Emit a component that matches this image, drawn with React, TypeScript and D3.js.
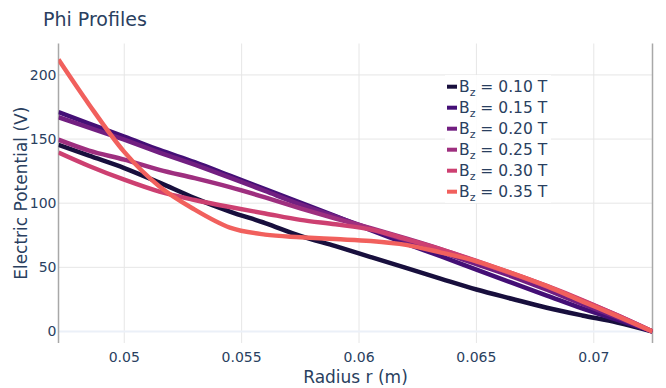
// @ts-nocheck
import * as d3 from "d3";
import { useMemo } from "react";

const width = 666;
const height = 388;

// radius sample points (m)
const radius = [
    0.0472, 0.0485, 0.05, 0.0515, 0.053, 0.0545, 0.056, 0.0575, 0.059,
    0.0605, 0.062, 0.0635, 0.065, 0.0665, 0.068, 0.0695, 0.071, 0.0725,
];

const fieldLabels = ["0.10", "0.15", "0.20", "0.25", "0.30", "0.35"];
const fieldColors = ["#180f3d", "#440f76", "#721f81", "#9e2f7f", "#cd4071", "#f1605d"];

// electric potential (V) per field strength
const phi010 = [145.5, 137, 127.4, 116, 104, 93.5, 84.5, 74.5, 66.5, 58, 49.5, 41, 32.7, 25.5, 18.5, 12.5, 7, 0];
const phi015 = [171, 162, 152, 141.5, 132, 121.5, 111, 100.5, 90, 79, 68.5, 58.5, 48.2, 38, 28, 18, 9, 0];
const phi020 = [167, 159, 149.5, 139.5, 130, 120, 109.5, 99, 89.5, 80, 71, 62, 52.5, 43, 32.5, 21.5, 11, 0];
const phi025 = [149.5, 141, 134, 126, 119.5, 112.5, 104.5, 96, 88, 80.5, 72.5, 64, 54.5, 45, 35, 24, 12.5, 0];
const phi030 = [139.5, 129, 118.3, 109, 102.5, 97, 92, 87, 83.5, 79.5, 72, 64, 55, 45.5, 35.5, 24.5, 12.5, 0];
const phi035 = [212, 177, 140, 113, 95, 81, 75.5, 73.5, 72, 70.5, 67.5, 61.5, 54.7, 45.5, 35.3, 23.5, 12, 0];

const phiSeries = [phi010, phi015, phi020, phi025, phi030, phi035];

const xTicks = [0.05, 0.055, 0.06, 0.065, 0.07];
const xTickLabels = ["0.05", "0.055", "0.06", "0.065", "0.07"];
const yTicks = [0, 50, 100, 150, 200];

const textColor = "#2a3f5f";
const font = "'DejaVu Sans', Verdana, sans-serif";

const plot = { left: 58.5, right: 652.5, top: 43.5, bottom: 343 };

const App = () => {
    const xScale = useMemo(
        () => d3.scaleLinear().domain([0.0472, 0.0725]).range([plot.left, plot.right]),
        []
    );
    const yScale = useMemo(
        () => d3.scaleLinear().domain([-9, 224.5]).range([plot.bottom, plot.top]),
        []
    );

    const line = d3
        .line()
        .x((d) => xScale(d[0]))
        .y((d) => yScale(d[1]))
        .curve(d3.curveMonotoneX);

    const series = phiSeries.map((vals, i) => ({
        label: fieldLabels[i],
        color: fieldColors[i],
        points: vals.map((v, j) => [radius[j], v]),
    }));

    const legend = { x: 445, y: 75, w: 106, h: 128, row: 21 };

    return (
        <svg
            width={width}
            height={height}
            style={{ position: "absolute", left: 0, top: 0, background: "#fff" }}
            fontFamily={font}
        >
            <text x={43} y={26} fontSize={19} fill={textColor}>
                Phi Profiles
            </text>

            {/* grid */}
            <g>
                {xTicks.map((t) => (
                    <line
                        key={`xg-${t}`}
                        x1={xScale(t)}
                        x2={xScale(t)}
                        y1={plot.top}
                        y2={plot.bottom}
                        stroke="#e6e6e6"
                        strokeWidth={1}
                    />
                ))}
                {yTicks.map((t) => (
                    <line
                        key={`yg-${t}`}
                        x1={plot.left}
                        x2={plot.right}
                        y1={yScale(t)}
                        y2={yScale(t)}
                        stroke={t === 0 ? "#ebf0f8" : "#e6e6e6"}
                        strokeWidth={t === 0 ? 2 : 1}
                    />
                ))}
            </g>

            {/* axis lines, left and mirrored right */}
            <line x1={plot.left} x2={plot.left} y1={plot.top} y2={plot.bottom} stroke="#a8a8a8" strokeWidth={1.5} />
            <line x1={plot.right} x2={plot.right} y1={plot.top} y2={plot.bottom} stroke="#a8a8a8" strokeWidth={1.5} />

            {/* tick labels */}
            {xTicks.map((t, i) => (
                <text key={`xt-${t}`} x={xScale(t)} y={361.5} fontSize={14} fill={textColor} textAnchor="middle">
                    {xTickLabels[i]}
                </text>
            ))}
            {yTicks.map((t) => (
                <text
                    key={`yt-${t}`}
                    x={56.5}
                    y={yScale(t)}
                    dy="0.35em"
                    fontSize={14}
                    fill={textColor}
                    textAnchor="end"
                >
                    {t}
                </text>
            ))}

            {/* axis titles */}
            <text x={(plot.left + plot.right) / 2} y={383} fontSize={17} fill={textColor} textAnchor="middle">
                Radius r (m)
            </text>
            <text
                transform={`translate(27,${(plot.top + plot.bottom) / 2}) rotate(-90)`}
                fontSize={17}
                fill={textColor}
                textAnchor="middle"
            >
                Electric Potential (V)
            </text>

            {/* lines */}
            <g clipPath="url(#plotClip)">
                {series.map((s) => (
                    <path
                        key={`line-${s.label}`}
                        d={line(s.points)}
                        fill="none"
                        stroke={s.color}
                        strokeWidth={4.5}
                        strokeLinejoin="round"
                    />
                ))}
            </g>
            <defs>
                <clipPath id="plotClip">
                    <rect x={plot.left} y={plot.top - 2} width={plot.right - plot.left} height={plot.bottom - plot.top + 4} />
                </clipPath>
            </defs>

            {/* legend */}
            <g>
                <rect x={legend.x} y={legend.y} width={legend.w} height={legend.h} fill="#fff" opacity={0.85} />
                {series.map((s, i) => {
                    const cy = legend.y + 11.7 + i * legend.row;
                    return (
                        <g key={`leg-${s.label}`}>
                            <line x1={447} x2={457} y1={cy} y2={cy} stroke={s.color} strokeWidth={4} />
                            <text x={459} y={cy} dy="0.36em" fontSize={15.5} fill={textColor}>
                                B
                                <tspan fontSize={11} dy={4}>
                                    z
                                </tspan>
                                <tspan dy={-4}> = {s.label} T</tspan>
                            </text>
                        </g>
                    );
                })}
            </g>
        </svg>
    );
};

export default App;
